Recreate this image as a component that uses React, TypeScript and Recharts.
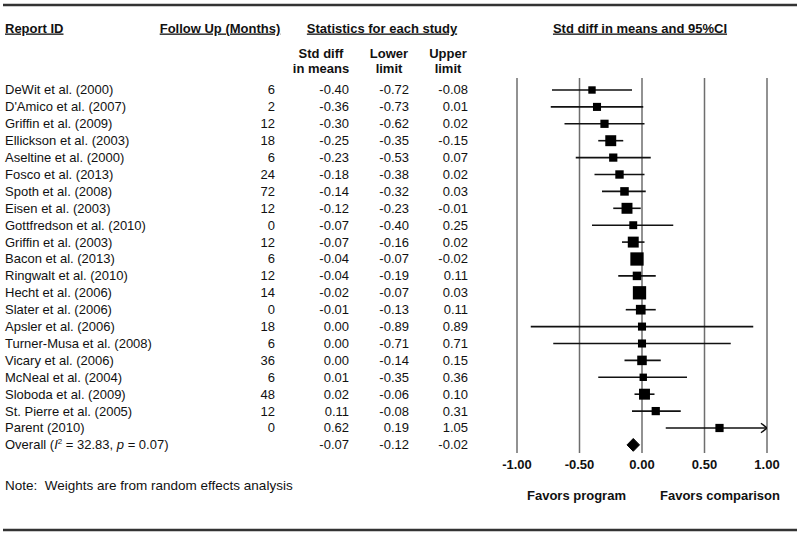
import React from 'react';
import { ScatterChart, Scatter, XAxis, YAxis, ZAxis, ErrorBar, ReferenceLine } from 'recharts';

const studies = [
  'DeWit et al. (2000)',
  "D'Amico et al. (2007)",
  'Griffin et al. (2009)',
  'Ellickson et al. (2003)',
  'Aseltine et al. (2000)',
  'Fosco et al. (2013)',
  'Spoth et al. (2008)',
  'Eisen et al. (2003)',
  'Gottfredson et al. (2010)',
  'Griffin et al. (2003)',
  'Bacon et al. (2013)',
  'Ringwalt et al. (2010)',
  'Hecht et al. (2006)',
  'Slater et al. (2006)',
  'Apsler et al. (2006)',
  'Turner-Musa et al. (2008)',
  'Vicary et al. (2006)',
  'McNeal et al. (2004)',
  'Sloboda et al. (2009)',
  'St. Pierre et al. (2005)',
  'Parent (2010)',
];
const followUp = [6, 2, 12, 18, 6, 24, 72, 12, 0, 12, 6, 12, 14, 0, 18, 6, 36, 6, 48, 12, 0];
const stdDiff = [-0.4, -0.36, -0.3, -0.25, -0.23, -0.18, -0.14, -0.12, -0.07, -0.07, -0.04, -0.04, -0.02, -0.01, 0.0, 0.0, 0.0, 0.01, 0.02, 0.11, 0.62];
const lower = [-0.72, -0.73, -0.62, -0.35, -0.53, -0.38, -0.32, -0.23, -0.4, -0.16, -0.07, -0.19, -0.07, -0.13, -0.89, -0.71, -0.14, -0.35, -0.06, -0.08, 0.19];
const upper = [-0.08, 0.01, 0.02, -0.15, 0.07, 0.02, 0.03, -0.01, 0.25, 0.02, -0.02, 0.11, 0.03, 0.11, 0.89, 0.71, 0.15, 0.36, 0.1, 0.31, 1.05];
// relative weights
const weights = [2.1, 2.5, 2.6, 4.6, 2.6, 2.7, 2.8, 4.6, 2.4, 4.6, 6.8, 2.8, 6.8, 3.6, 2.5, 2.5, 3.5, 2.1, 4.6, 2.6, 2.6];
const overall = { mean: -0.07, lower: -0.12, upper: -0.02 };
const xTicks = [-1, -0.5, 0, 0.5, 1];

const X_MAX = 1;
const overallRow = studies.length;
const rowTicks = [...studies.map((_, i) => i), overallRow];

const forestData = studies.map((name, i) => ({
  x: stdDiff[i],
  y: i,
  w: weights[i],
  err: [stdDiff[i] - lower[i], Math.min(upper[i], X_MAX) - stdDiff[i]],
}));

const diamond = [
  { x: overall.lower, y: overallRow },
  { x: overall.mean, y: overallRow - 0.38 },
  { x: overall.upper, y: overallRow },
  { x: overall.mean, y: overallRow + 0.38 },
  { x: overall.lower, y: overallRow },
];

// arrow head for the CI that runs past the axis
const arrowRows = studies.map((_, i) => i).filter((i) => upper[i] > X_MAX);
const arrows = arrowRows.flatMap((r) => [
  { x: X_MAX - 0.048, y: r - 0.28 },
  { x: X_MAX, y: r },
  { x: X_MAX - 0.048, y: r + 0.28 },
]);

const FONT = '"Liberation Sans", Arial, sans-serif';
const fmt = (v: number) => v.toFixed(2);

function Box(props: any) {
  const { cx, cy, size } = props;
  const side = 2 * Math.sqrt((size || 40) / Math.PI);
  return <rect x={cx - side / 2} y={cy - side / 2} width={side} height={side} fill="#000" />;
}

function RowTick(props: any) {
  const r = props.payload.value;
  const y = props.y + 4.5;
  const t = { fontSize: 13, fill: '#111' };
  if (r === overallRow) {
    return (
      <g>
        <text x={5} y={y} {...t}>
          Overall (<tspan fontStyle="italic">I</tspan>
          <tspan fontSize={8} dy={-5}>2</tspan>
          <tspan dy={5}> = 32.83, </tspan>
          <tspan fontStyle="italic">p</tspan> = 0.07)
        </text>
        <text x={349} y={y} textAnchor="end" {...t}>{fmt(overall.mean)}</text>
        <text x={409} y={y} textAnchor="end" {...t}>{fmt(overall.lower)}</text>
        <text x={468} y={y} textAnchor="end" {...t}>{fmt(overall.upper)}</text>
      </g>
    );
  }
  return (
    <g>
      <text x={5} y={y} {...t}>{studies[r]}</text>
      <text x={275} y={y} textAnchor="end" {...t}>{followUp[r]}</text>
      <text x={349} y={y} textAnchor="end" {...t}>{fmt(stdDiff[r])}</text>
      <text x={409} y={y} textAnchor="end" {...t}>{fmt(lower[r])}</text>
      <text x={468} y={y} textAnchor="end" {...t}>{fmt(upper[r])}</text>
    </g>
  );
}

function Headers() {
  const h = { fontSize: 13, fontWeight: 'bold' as const, fill: '#111' };
  const u = { ...h, textDecoration: 'underline' };
  return (
    <svg width={800} height={535} style={{ position: 'absolute', left: 0, top: 0, pointerEvents: 'none' }}>
      <line x1={3} x2={797} y1={5} y2={5} stroke="#333" strokeWidth={2.5} />
      <line x1={3} x2={797} y1={530} y2={530} stroke="#333" strokeWidth={2.5} />
      <text x={5} y={32.5} {...u}>Report ID</text>
      <text x={220} y={32.5} textAnchor="middle" {...u}>Follow Up (Months)</text>
      <text x={382} y={32.5} textAnchor="middle" {...u}>Statistics for each study</text>
      <text x={640} y={32.5} textAnchor="middle" {...u}>Std diff in means and 95%CI</text>
      <text x={321} y={58} textAnchor="middle" {...h}>Std diff</text>
      <text x={321} y={72.5} textAnchor="middle" {...h}>in means</text>
      <text x={389} y={58} textAnchor="middle" {...h}>Lower</text>
      <text x={389} y={72.5} textAnchor="middle" {...h}>limit</text>
      <text x={448} y={58} textAnchor="middle" {...h}>Upper</text>
      <text x={448} y={72.5} textAnchor="middle" {...h}>limit</text>
      <text x={5} y={490} fontSize={13.5} fill="#111" style={{ whiteSpace: 'pre' }}>
        {'Note:  Weights are from random effects analysis'}
      </text>
      <text x={527} y={500} {...h}>Favors program</text>
      <text x={660} y={500} {...h}>Favors comparison</text>
    </svg>
  );
}

export default function App() {
  return (
    <div style={{ position: 'relative', width: 800, height: 535, fontFamily: FONT, background: '#fff' }}>
      <style>{'body{margin:0}'}</style>
      <ScatterChart width={800} height={535} margin={{ top: 78, right: 33, bottom: 52, left: 516 }}>
        <XAxis
          type="number"
          dataKey="x"
          domain={[-1, 1]}
          allowDataOverflow
          ticks={xTicks}
          tickFormatter={fmt}
          axisLine={false}
          tickLine={false}
          tickSize={0}
          tickMargin={7}
          height={30}
          tick={{ fontSize: 13, fontWeight: 'bold', fill: '#111' }}
        />
        <YAxis
          type="number"
          dataKey="y"
          domain={[-0.71, 21.48]}
          reversed
          allowDataOverflow
          ticks={rowTicks}
          interval={0}
          width={1}
          axisLine={false}
          tickLine={false}
          tick={RowTick}
        />
        <ZAxis type="number" dataKey="w" domain={[0, 7]} range={[0, 143]} />
        {xTicks.map((v) => (
          <ReferenceLine key={v} x={v} stroke="#6e6e6e" strokeWidth={1.5} />
        ))}
        <Scatter data={forestData} shape={Box} isAnimationActive={false}>
          <ErrorBar dataKey="err" direction="x" width={0} stroke="#111" strokeWidth={1.6} />
        </Scatter>
        <Scatter
          data={diamond}
          shape={() => <g />}
          line={{ fill: '#000', stroke: '#000', strokeWidth: 1 }}
          lineType="joint"
          isAnimationActive={false}
        />
        <Scatter
          data={arrows}
          shape={() => <g />}
          line={{ stroke: '#111', strokeWidth: 1.5 }}
          lineType="joint"
          isAnimationActive={false}
        />
      </ScatterChart>
      <Headers />
    </div>
  );
}
